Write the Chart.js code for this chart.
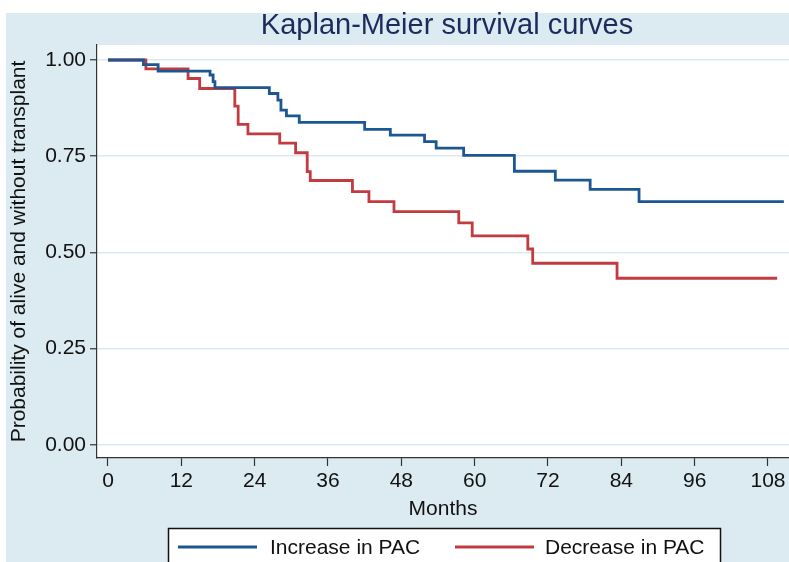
<!DOCTYPE html>
<html>
<head>
<meta charset="utf-8">
<script src="https://cdn.jsdelivr.net/npm/chart.js@4.4.1/dist/chart.umd.min.js"></script>
<style>
  body { margin: 0; background: #fff; }
  #wrap { width: 789px; height: 562px; }
</style>
</head>
<body>
<div id="wrap"><canvas id="km" width="789" height="562"></canvas></div>
<script>
// months at which each curve steps down, and survival after the step
const incMonths = [0, 5.8, 8.2, 16.7, 17.2, 17.5, 26.4, 27.8, 28.3, 29.2, 31.3, 42.0, 46.2, 51.8, 53.7, 58.2, 66.5, 73.2, 78.9, 86.9, 110.6];
const incSurv   = [1.0, 0.988, 0.971, 0.961, 0.944, 0.928, 0.913, 0.896, 0.870, 0.855, 0.838, 0.820, 0.805, 0.788, 0.771, 0.752, 0.711, 0.688, 0.664, 0.632, 0.632];

const decMonths = [0, 6.2, 13.1, 15.0, 20.75, 21.3, 22.9, 28.1, 30.7, 32.6, 33.1, 40.0, 42.7, 46.8, 57.4, 59.6, 68.7, 69.5, 83.3, 109.5];
const decSurv   = [1.0, 0.977, 0.952, 0.926, 0.880, 0.833, 0.808, 0.784, 0.759, 0.710, 0.687, 0.658, 0.632, 0.606, 0.577, 0.543, 0.509, 0.472, 0.433, 0.433];

const xTicks = [0, 12, 24, 36, 48, 60, 72, 84, 96, 108];
const yTicks = [0, 0.25, 0.5, 0.75, 1];

const seriesNames = ["Increase in PAC", "Decrease in PAC"];
const titleText = "Kaplan-Meier survival curves";

const FONT = "'Liberation Sans', Arial, sans-serif";
const BLUE = "#1d5792";
const RED = "#c23b40";

function toPoints(xs, ys) {
  return xs.map((x, i) => ({ x: x, y: ys[i] }));
}

// background, plot region, title and boxed legend
const stataFrame = {
  id: "stataFrame",
  beforeDraw(chart) {
    const { ctx, chartArea: a } = chart;
    ctx.save();
    ctx.fillStyle = "#dcebf1";
    ctx.fillRect(6, 13, chart.width, chart.height);
    ctx.fillStyle = "#ffffff";
    ctx.fillRect(a.left, a.top, chart.width - a.left, a.bottom - a.top);
    ctx.restore();
  },
  afterDraw(chart) {
    const { ctx } = chart;
    ctx.save();
    // title
    ctx.fillStyle = "#1f2a5c";
    ctx.font = "29px " + FONT;
    ctx.textAlign = "center";
    ctx.textBaseline = "middle";
    ctx.fillText(titleText, 447, 26);

    // legend
    ctx.fillStyle = "#ffffff";
    ctx.fillRect(168, 528, 552, 40);
    ctx.strokeStyle = "#111";
    ctx.lineWidth = 1.5;
    ctx.strokeRect(168.5, 528.5, 552, 40);
    const items = [[178, 270], [455, 545]];
    ctx.font = "21px " + FONT;
    ctx.textAlign = "left";
    chart.data.datasets.forEach((ds, i) => {
      const [lx, tx] = items[i];
      ctx.strokeStyle = ds.borderColor;
      ctx.lineWidth = 2.8;
      ctx.beginPath();
      ctx.moveTo(lx, 547);
      ctx.lineTo(lx + 79, 547);
      ctx.stroke();
      ctx.fillStyle = "#111";
      ctx.fillText(ds.label, tx, 548);
    });
    ctx.restore();
  }
};

new Chart(document.getElementById("km"), {
  type: "line",
  data: {
    datasets: [
      {
        label: seriesNames[0],
        data: toPoints(incMonths, incSurv),
        borderColor: BLUE,
        borderWidth: 2.8,
        stepped: true,
        pointRadius: 0,
        fill: false
      },
      {
        label: seriesNames[1],
        data: toPoints(decMonths, decSurv),
        borderColor: RED,
        borderWidth: 2.8,
        stepped: true,
        pointRadius: 0,
        fill: false
      }
    ]
  },
  options: {
    responsive: false,
    animation: false,
    devicePixelRatio: 1,
    layout: { padding: { left: 6, top: 45, right: 0, bottom: 40 } },
    plugins: {
      legend: { display: false },
      tooltip: { enabled: false }
    },
    scales: {
      x: {
        type: "linear",
        min: -1.8,
        max: 111.44,
        afterBuildTicks: s => { s.ticks = xTicks.map(v => ({ value: v })); },
        afterFit: s => { s.height = 64; },
        grid: { drawOnChartArea: false, tickLength: 8, tickColor: "#333", tickWidth: 1.2 },
        border: { display: true, color: "#333", width: 1.2 },
        ticks: {
          color: "#111",
          padding: 3,
          maxRotation: 0,
          font: { family: FONT, size: 21 },
          callback: v => String(v)
        },
        title: {
          display: true,
          text: "Months",
          color: "#111",
          padding: { top: 2, bottom: 0 },
          font: { family: FONT, size: 21 }
        }
      },
      y: {
        min: -0.034,
        max: 1.039,
        afterBuildTicks: s => { s.ticks = yTicks.map(v => ({ value: v })); },
        afterFit: s => { s.width = 91; },
        grid: { color: "#dbeaf1", lineWidth: 1.5, tickLength: 7, tickColor: "#333", tickWidth: 1.2 },
        border: { display: true, color: "#333", width: 1.2 },
        ticks: {
          color: "#111",
          padding: 4,
          font: { family: FONT, size: 21 },
          callback: v => Number(v).toFixed(2)
        },
        title: {
          display: true,
          text: "Probability of alive and without transplant",
          color: "#111",
          padding: { top: 1, bottom: 0 },
          font: { family: FONT, size: 21 }
        }
      }
    }
  },
  plugins: [stataFrame]
});
</script>
</body>
</html>
